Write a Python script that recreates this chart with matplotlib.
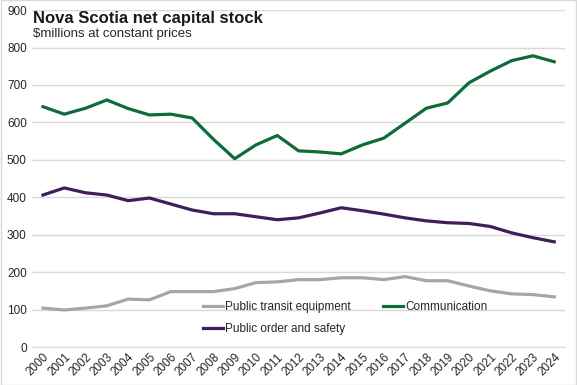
import matplotlib
matplotlib.use("Agg")
import matplotlib.pyplot as plt
from matplotlib.patches import Rectangle

years = list(range(2000, 2025))
transit = [104, 99, 104, 110, 128, 126, 148, 148, 148, 156, 172, 174, 180, 180, 185,
           185, 180, 188, 177, 177, 163, 150, 142, 140, 134]
communication = [642, 622, 638, 660, 637, 620, 622, 612, 555, 503, 540, 565, 524, 521, 516,
                 540, 558, 598, 638, 652, 706, 737, 765, 778, 762]
public_order = [406, 425, 412, 406, 391, 398, 382, 366, 356, 356, 348, 340, 345, 358, 372,
                364, 355, 345, 337, 332, 330, 322, 305, 292, 281]
yticks = [0, 100, 200, 300, 400, 500, 600, 700, 800, 900]

plt.rcParams['font.family'] = ['Liberation Sans', 'DejaVu Sans']

fig = plt.figure(figsize=(5.77, 3.85), dpi=100)
fig.patches.append(Rectangle((0.001, 0.001), 0.998, 0.998, transform=fig.transFigure,
                             fill=False, edgecolor='#d9d9d9', linewidth=1))
ax = fig.add_axes([0.056, 0.0987, 0.923, 0.875])

x = list(range(len(years)))
l1, = ax.plot(x, transit, color='#a6a6a6', lw=2.3, label='Public transit equipment')
l2, = ax.plot(x, communication, color='#0e6b3a', lw=2.3, label='Communication')
l3, = ax.plot(x, public_order, color='#3f1e5c', lw=2.3, label='Public order and safety')

ax.set_xlim(-0.5, len(years) - 0.5)
ax.set_ylim(0, 900)
ax.set_yticks(yticks)
ax.set_yticklabels([str(v) for v in yticks], fontsize=8.5, color='#262626')
ax.set_xticks(x)
ax.set_xticklabels([str(y) for y in years], rotation=45, fontsize=8.5, color='#262626',
                   ha='right', va='top', rotation_mode='anchor')
ax.tick_params(axis='both', length=0, pad=4)
ax.tick_params(axis='x', pad=3)
ax.grid(axis='y', color='#d9d9d9', lw=1)
ax.set_axisbelow(True)
for s in ax.spines.values():
    s.set_visible(False)
ax.spines['bottom'].set_visible(True)
ax.spines['bottom'].set_color('#d9d9d9')

fig.text(0.057, 0.952, 'Nova Scotia net capital stock', fontsize=12, fontweight='bold',
         color='#1a1a1a', va='center')
fig.text(0.057, 0.911, '$millions at constant prices', fontsize=9.5, color='#262626',
         va='center')

leg = ax.legend(handles=[l1, l3, l2], ncol=2, frameon=False, fontsize=8.5,
                loc='lower left', bbox_to_anchor=(0.3, 0.005), handlelength=1.7,
                handletextpad=0.15, columnspacing=2.8, labelspacing=0.8)
for t in leg.get_texts():
    t.set_color('#262626')

fig.savefig('out.png', dpi=100)
